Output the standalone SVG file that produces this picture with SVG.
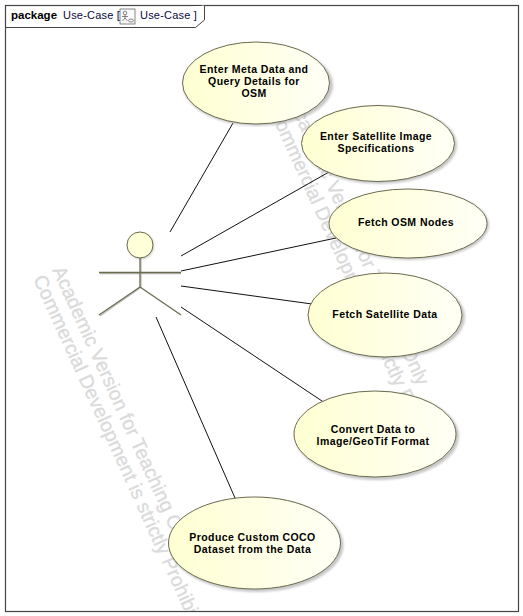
<svg xmlns="http://www.w3.org/2000/svg" width="523" height="616" viewBox="0 0 523 616">
<style>
text{font-family:"Liberation Sans",Arial,sans-serif}
.uc{fill:url(#uc);stroke:#6b6b4e;stroke-width:1}
.sh{fill:#9a9a9a;opacity:.55}
.lb{font-size:10.5px;font-weight:bold;fill:#000;text-anchor:middle;letter-spacing:.42px}
.wm{font-size:19.5px;fill:#dadada;stroke:#dadada;stroke-width:.3}
.c{stroke:#111;stroke-width:1;fill:none}
.a{stroke:#6b6b4e;stroke-width:1.3;fill:none}
.as{stroke:#bdbdbd;stroke-width:1.3;fill:none}
.f{font-size:11px;fill:#0a0a3c}
</style>
<defs>
<linearGradient id="uc" x1="0" y1="0" x2="1" y2="0"><stop offset="0" stop-color="#ffffd2"/><stop offset="1" stop-color="#fffff6"/></linearGradient>
<filter id="b" x="-10%" y="-10%" width="120%" height="120%"><feGaussianBlur stdDeviation="1"/></filter>
<clipPath id="fr"><rect x="6" y="6" width="512" height="605"/></clipPath>
<clipPath id="fr2"><rect x="6" y="6" width="512" height="404"/></clipPath>
</defs>
<rect width="523" height="616" fill="#fff"/>
<g id="watermark">
<g clip-path="url(#fr)"><g transform="translate(52,270) rotate(65.5)"><text class="wm" x="0" y="0">Academic Version for Teaching Only</text><text class="wm" x="0" y="21">Commercial Development is strictly Prohibited</text></g></g>
<g clip-path="url(#fr2)"><g transform="translate(288,102) rotate(65.5)"><text class="wm" x="0" y="0">Academic Version for Teaching Only</text><text class="wm" x="0" y="21">Commercial Development is strictly Prohibited</text></g></g>
</g>
<g id="frame">
<rect x="5.5" y="5.5" width="513" height="606" fill="none" stroke="#444" stroke-width="1.2"/>
<path d="M5.5 27.5H195.500L204.500 20V5.500" fill="#fff" stroke="#444" stroke-width="1"/>
<text x="11" y="18.5" font-size="11.5" font-weight="bold" fill="#000">package</text>
<text class="f" x="63" y="18.5" letter-spacing=".2">Use-Case [</text>
<g id="icon" fill="none" stroke="#555" stroke-width=".7"><rect x="120" y="9" width="15" height="15" fill="#fafafa"/><circle cx="125" cy="13" r="1.8"/><path d="M125 15V18M122 16.500H128M125 18L122.500 21M125 18L127.500 21"/><ellipse cx="131" cy="20.500" rx="2.500" ry="1.500"/></g>
<text class="f" x="140" y="18.5" letter-spacing=".2">Use-Case ]</text>
</g>
<g id="connectors">
<line class="c" x1="170" y1="232" x2="233" y2="123"/>
<line class="c" x1="181" y1="256" x2="329" y2="172"/>
<line class="c" x1="181" y1="271" x2="336" y2="238"/>
<line class="c" x1="181" y1="286" x2="312" y2="304"/>
<line class="c" x1="181" y1="307" x2="325" y2="403"/>
<line class="c" x1="156" y1="317" x2="235" y2="498"/>
</g>
<g id="actor">
<path class="as" d="M100 273.500H181M141 258V288M140 288L100 316"/>
<circle cx="141" cy="246" r="13" class="sh" filter="url(#b)"/>
<circle cx="140" cy="245" r="13" fill="#ffffd8" stroke="#6b6b4e" stroke-width="1"/>
<path class="a" d="M140 258V287M99 272.500H181M140 287L99 315M140 287L181 315"/>
</g>
<g id="uc1"><ellipse class="sh" cx="258" cy="85" rx="75" ry="41" filter="url(#b)"/><ellipse class="uc" cx="256" cy="83" rx="73.500" ry="41"/><text class="lb" x="254" y="73">Enter Meta Data and</text><text class="lb" x="254" y="85">Query Details for</text><text class="lb" x="254" y="97">OSM</text></g>
<g id="uc2"><ellipse class="sh" cx="380" cy="145" rx="77" ry="39" filter="url(#b)"/><ellipse class="uc" cx="378" cy="143.500" rx="76.500" ry="38"/><text class="lb" x="376" y="140">Enter Satellite Image</text><text class="lb" x="376" y="152">Specifications</text></g>
<g id="uc3"><ellipse class="sh" cx="410" cy="225" rx="79" ry="35" filter="url(#b)"/><ellipse class="uc" cx="408" cy="223.500" rx="79" ry="34.500"/><text class="lb" x="406" y="226">Fetch OSM Nodes</text></g>
<g id="uc4"><ellipse class="sh" cx="387" cy="317" rx="78" ry="42" filter="url(#b)"/><ellipse class="uc" cx="385" cy="315" rx="77" ry="42"/><text class="lb" x="385" y="318">Fetch Satellite Data</text></g>
<g id="uc5"><ellipse class="sh" cx="377" cy="436" rx="82" ry="44" filter="url(#b)"/><ellipse class="uc" cx="375" cy="434" rx="81" ry="43"/><text class="lb" x="373" y="433">Convert Data to</text><text class="lb" x="373" y="445">Image/GeoTif Format</text></g>
<g id="uc6"><ellipse class="sh" cx="256.500" cy="545" rx="87" ry="47" filter="url(#b)"/><ellipse class="uc" cx="254.500" cy="543" rx="86" ry="46"/><text class="lb" x="252.500" y="541">Produce Custom COCO</text><text class="lb" x="252.500" y="553">Dataset from the Data</text></g>
</svg>
